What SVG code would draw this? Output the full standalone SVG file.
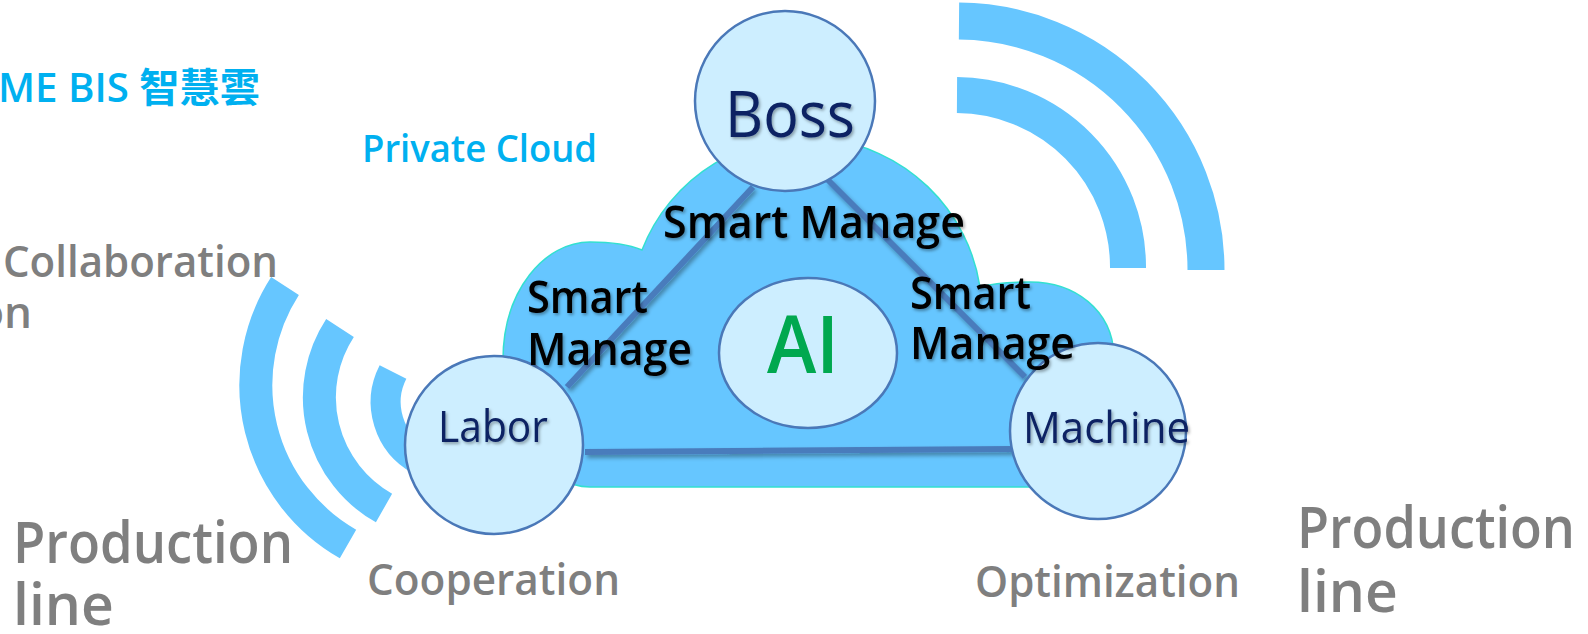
<svg xmlns="http://www.w3.org/2000/svg" width="1588" height="634" viewBox="0 0 1588 634">
<defs>
<style>
.wave{fill:none;stroke:#66c6ff;stroke-linecap:butt}
.node{fill:#cdeeff;stroke:#4a78b8;stroke-width:2.5}
.conn{stroke:#4a7cbc;stroke-width:6;stroke-linecap:butt;fill:none}
.nav{font-family:"Open Sans","Noto Sans",sans-serif;fill:#0b2463;font-weight:400}
.sm{font-family:"Open Sans","Noto Sans",sans-serif;fill:#000;font-weight:600;font-size:45px}
.gray{font-family:"Open Sans","Noto Sans",sans-serif;fill:#7f7f7f;font-weight:600}
.blue{font-family:"Open Sans","Noto Sans","Noto Sans CJK TC",sans-serif;fill:#00b0f0;font-weight:600}
</style>
<filter id="sh" x="-10%" y="-20%" width="130%" height="150%">
<feDropShadow dx="2" dy="3" stdDeviation="2" flood-color="#000" flood-opacity="0.35"/>
</filter>
<filter id="tsh" x="-10%" y="-20%" width="130%" height="150%">
<feDropShadow dx="1.5" dy="2" stdDeviation="1.5" flood-color="#000" flood-opacity="0.35"/>
</filter>
</defs>

<g id="waves-left">
<path class="wave" stroke-width="33" d="M 285 286 A 183 183 0 0 0 348 544"/>
<path class="wave" stroke-width="33" d="M 340 328 A 127 127 0 0 0 384 508"/>
<path class="wave" stroke-width="30" d="M 393 372 A 66 66 0 0 0 420 460"/>
</g>
<g id="waves-right">
<path class="wave" stroke-width="37" d="M 959 21 A 249 249 0 0 1 1206 270"/>
<path class="wave" stroke-width="36" d="M 957 95 A 172 172 0 0 1 1128 268"/>
</g>

<g id="cloud">
<path d="M 590 487 C 545 487 503 430 503 360 C 503 290 545 242 590 242 C 612 242 630 245 642 250 A 176 176 0 0 1 980 287 C 995 283 1010 282 1030 282 C 1075 282 1112 310 1114 355 L 1100 487 Z" fill="#66c6ff" stroke="#33e0d0" stroke-width="1.5"/>
</g>

<g id="connectors" filter="url(#sh)">
<line class="conn" x1="753" y1="187" x2="567" y2="387"/>
<line class="conn" x1="828" y1="180" x2="1025" y2="377"/>
<line class="conn" x1="585" y1="452" x2="1013" y2="449"/>
</g>

<g id="node-ai">
<ellipse class="node" cx="808" cy="353" rx="89" ry="75"/>
<text x="767" y="373" font-family="Open Sans, Noto Sans, sans-serif" font-weight="600" font-size="80" fill="#00a84f" textLength="72" lengthAdjust="spacingAndGlyphs">AI</text>
</g>

<g id="node-boss">
<circle class="node" cx="785" cy="101" r="90"/>
<text class="nav" x="725" y="137" font-size="64" textLength="130" lengthAdjust="spacingAndGlyphs" filter="url(#tsh)">Boss</text>
</g>

<g id="node-labor">
<circle class="node" cx="494" cy="445" r="89"/>
<text class="nav" x="438" y="442" font-size="44" textLength="110" lengthAdjust="spacingAndGlyphs" filter="url(#tsh)">Labor</text>
</g>

<g id="node-machine">
<circle class="node" cx="1098" cy="431" r="88"/>
<text class="nav" x="1023" y="443" font-size="44" textLength="167" lengthAdjust="spacingAndGlyphs" filter="url(#tsh)">Machine</text>
</g>

<g id="edge-labels" filter="url(#tsh)">
<text class="sm" x="663" y="238" textLength="302" lengthAdjust="spacingAndGlyphs">Smart Manage</text>
<text class="sm" x="527" y="313" textLength="121" lengthAdjust="spacingAndGlyphs">Smart</text>
<text class="sm" x="527" y="365" textLength="165" lengthAdjust="spacingAndGlyphs">Manage</text>
<text class="sm" x="910" y="309" textLength="121" lengthAdjust="spacingAndGlyphs">Smart</text>
<text class="sm" x="910" y="359" textLength="165" lengthAdjust="spacingAndGlyphs">Manage</text>
</g>

<g id="labels">
<text class="blue" x="-2" y="102" font-size="40" textLength="262" lengthAdjust="spacingAndGlyphs">ME BIS 智慧雲</text>
<text class="blue" x="362" y="162" font-size="38" textLength="235" lengthAdjust="spacingAndGlyphs">Private Cloud</text>
<text class="gray" x="3" y="277" font-size="44" textLength="275" lengthAdjust="spacingAndGlyphs">Collaboration</text>
<text class="gray" x="32" y="328" font-size="44" text-anchor="end">on</text>
<text class="gray" x="13" y="563" font-size="57" textLength="280" lengthAdjust="spacingAndGlyphs">Production</text>
<text class="gray" x="13" y="625" font-size="57">line</text>
<text class="gray" x="1297" y="548" font-size="57" textLength="278" lengthAdjust="spacingAndGlyphs">Production</text>
<text class="gray" x="1297" y="612" font-size="57">line</text>
<text class="gray" x="367" y="595" font-size="44" textLength="253" lengthAdjust="spacingAndGlyphs">Cooperation</text>
<text class="gray" x="975" y="597" font-size="44" textLength="265" lengthAdjust="spacingAndGlyphs">Optimization</text>
</g>
</svg>
